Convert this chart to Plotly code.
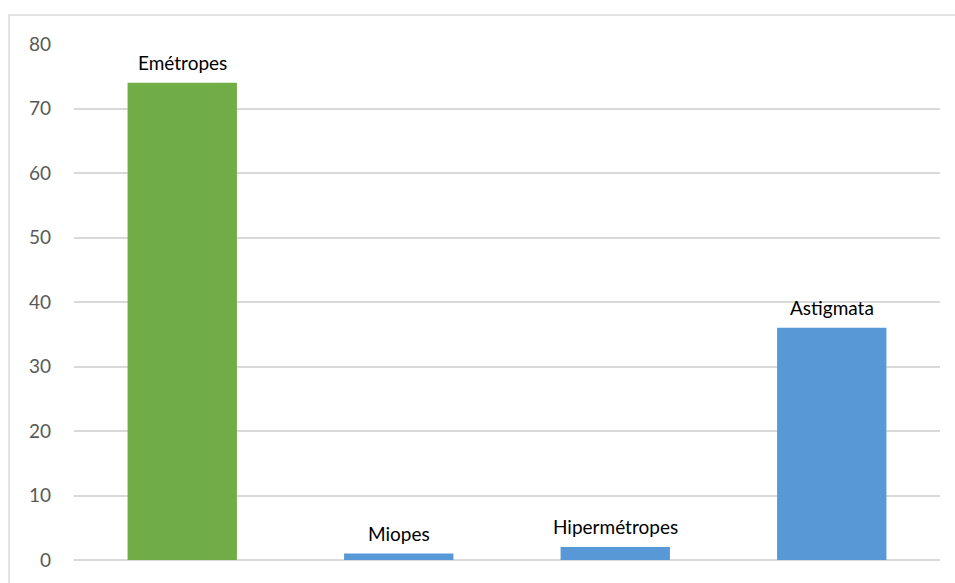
import plotly.graph_objects as go

# Refraction groups and counts
categories = ["Emétropes", "Miopes", "Hipermétropes", "Astigmata"]
counts = [74, 1, 2, 36]
bar_colors = ["#70ad47", "#5898d6", "#5898d6", "#5898d6"]
y_ticks = [0, 10, 20, 30, 40, 50, 60, 70, 80]

FONT = "Lato, Open Sans, Liberation Sans, sans-serif"

fig = go.Figure(
    go.Bar(
        x=categories,
        y=counts,
        marker=dict(color=bar_colors, line=dict(width=0)),
        width=0.505,
        hoverinfo="x+y",
    )
)

# Category names written above each bar
for cat, val in zip(categories, counts):
    fig.add_annotation(
        x=cat, y=val, text=cat, showarrow=False,
        yanchor="bottom", yshift=7,
        font=dict(family=FONT, size=19, color="#000000"),
    )

fig.update_layout(
    width=955,
    height=583,
    margin=dict(l=74, r=15, t=44, b=20),
    paper_bgcolor="white",
    plot_bgcolor="white",
    showlegend=False,
    font=dict(family=FONT, color="#595959", size=19),
    xaxis=dict(showticklabels=False, showgrid=False, zeroline=False, showline=False, ticks=""),
    yaxis=dict(
        range=[0, 80],
        tickvals=y_ticks,
        showgrid=True,
        gridcolor="#d9d9d9",
        gridwidth=1.5,
        zeroline=True,
        zerolinecolor="#d9d9d9",
        zerolinewidth=1.5,
        showline=False,
        ticks="",
        ticklabelstandoff=22,
        tickfont=dict(family=FONT, size=19, color="#595959"),
    ),
    shapes=[
        dict(
            type="rect", xref="paper", yref="paper",
            x0=-0.075, x1=1.03, y0=-0.06, y1=1.056,
            line=dict(color="#d9d9d9", width=1.5), fillcolor="rgba(0,0,0,0)",
            layer="below",
        )
    ],
)

fig.write_html("out.html")
